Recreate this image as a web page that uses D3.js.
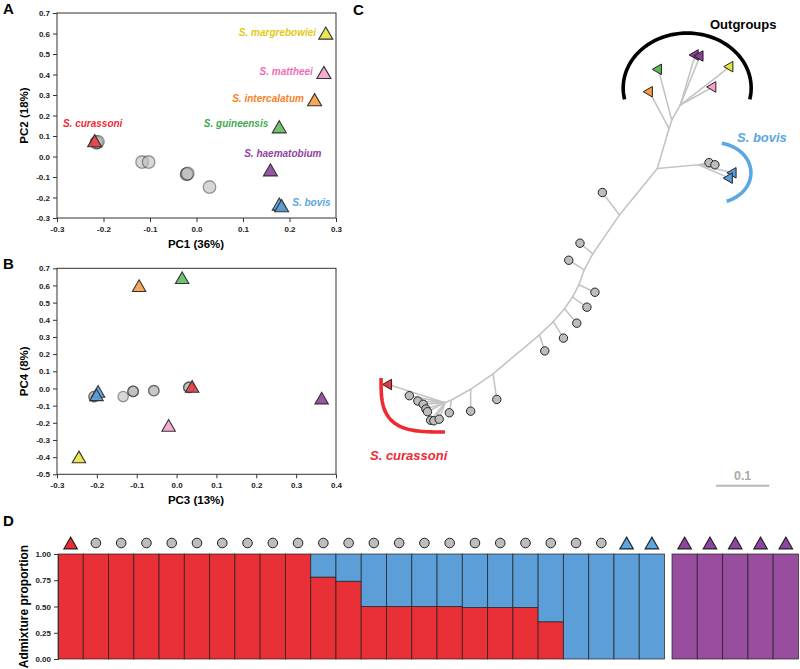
<!DOCTYPE html>
<html>
<head>
<meta charset="utf-8">
<script src="https://cdn.jsdelivr.net/npm/d3@7"></script>
<style>
  body { margin: 0; background: #fff; }
  svg { font-family: "Liberation Sans", Arial, sans-serif; }
  .axis text { font-size: 8px; font-weight: bold; fill: #222; }
  .axis line { stroke: #333; }
</style>
</head>
<body>
<script>
// species (triangles) shared by all panels
const species = ['S. curassoni', 'S. guineensis', 'S. haematobium', 'S. bovis',
  'S. intercalatum', 'S. mattheei', 'S. margrebowiei'];
const speciesFill = ['#E8393F', '#5CB85C', '#8A3E97', '#5A9DD6', '#F89B3E', '#F4A1CB', '#E6E33C'];
const speciesInk = ['#EE2A33', '#3DAA4A', '#8E44A0', '#5AA7E2', '#F7821F', '#F26CB4', '#E5C813'];

// PCA: reference species
const triSpecies = [0, 1, 2, 3, 3, 4, 5, 6];
const triPC1 = [-0.219, 0.178, 0.159, 0.178, 0.183, 0.254, 0.274, 0.278];
const triPC2 = [0.077, 0.145, -0.065, -0.232, -0.240, 0.277, 0.410, 0.602];
const triPC3 = [0.039, 0.014, 0.364, -0.197, -0.201, -0.094, -0.020, -0.245];
const triPC4 = [0.012, 0.645, -0.056, -0.017, -0.037, 0.599, -0.215, -0.399];

// PCA: field samples (grey circles)
const hybPC1 = [-0.215, -0.215, -0.212, -0.117, -0.103, -0.021, -0.021, -0.019, 0.028];
const hybPC2 = [0.068, 0.068, 0.072, -0.027, -0.027, -0.086, -0.086, -0.083, -0.149];
const hybPC3 = [-0.207, -0.207, -0.134, -0.109, -0.109, -0.109, -0.057, -0.057, 0.031, 0.031, 0.031];
const hybPC4 = [-0.047, -0.047, -0.047, -0.017, -0.017, -0.017, -0.013, -0.013, 0.006, 0.006, 0.006];

const pc1Ticks = [-0.3, -0.2, -0.1, 0, 0.1, 0.2, 0.3];
const pc2Ticks = [-0.3, -0.2, -0.1, 0, 0.1, 0.2, 0.3, 0.4, 0.5, 0.6, 0.7];
const pc3Ticks = [-0.3, -0.2, -0.1, 0, 0.1, 0.2, 0.3, 0.4];
const pc4Ticks = [-0.5, -0.4, -0.3, -0.2, -0.1, 0, 0.1, 0.2, 0.3, 0.4, 0.5, 0.6, 0.7];

// tree: [id, parent, x, y, kind] in substitutions/site; kind: 'n' node, 'c' sample, number = species
const treeNodes = [
  ['o4', 'o3', 0.563, 0.197, 'n'], ['o3', 'o2', 0.547, 0.225, 'n'], ['o2', 'r', 0.542, 0.241, 'n'],
  ['r', null, 0.520, 0.316, 'n'], ['b', 'r', 0.597, 0.309, 'n'],
  ['s1', 'r', 0.449, 0.403, 'n'], ['s2', 's1', 0.399, 0.476, 'n'], ['s3', 's2', 0.383, 0.506, 'n'],
  ['s4', 's3', 0.373, 0.534, 'n'], ['s5', 's4', 0.361, 0.557, 'n'], ['s6', 's5', 0.346, 0.579, 'n'],
  ['s7', 's6', 0.325, 0.603, 'n'], ['s8', 's7', 0.299, 0.628, 'n'], ['s9', 's8', 0.212, 0.701, 'n'],
  ['s10', 's9', 0.170, 0.730, 'n'], ['s11', 's10', 0.134, 0.750, 'n'], ['f', 's11', 0.122, 0.755, 'n'],
  ['t4', 'o2', 0.505, 0.172, 4], ['t1', 'o3', 0.522, 0.130, 1],
  ['t2a', 'o4', 0.591, 0.103, 2], ['t2b', 'o4', 0.600, 0.105, 2],
  ['t5', 'o4', 0.624, 0.163, 5], ['t6', 'o4', 0.656, 0.125, 6],
  ['bc1', 'b', 0.617, 0.305, 'c'], ['bc2', 'b', 0.628, 0.309, 'c'],
  ['t3a', 'b', 0.662, 0.324, 3], ['t3b', 'b', 0.655, 0.334, 3],
  ['c1', 's1', 0.417, 0.361, 'c'], ['c2', 's2', 0.375, 0.456, 'c'], ['c3', 's3', 0.354, 0.488, 'c'],
  ['c4', 's4', 0.403, 0.548, 'c'], ['c5', 's5', 0.388, 0.576, 'c'], ['c6', 's6', 0.369, 0.606, 'c'],
  ['c7', 's7', 0.344, 0.634, 'c'], ['c8', 's8', 0.309, 0.658, 'c'], ['c9', 's9', 0.219, 0.749, 'c'],
  ['c10', 's10', 0.170, 0.771, 'c'], ['c11', 's11', 0.130, 0.774, 'c'],
  ['t0', 'f', 0.016, 0.721, 0],
  ['f1', 'f', 0.055, 0.742, 'c'], ['f2', 'f', 0.071, 0.752, 'c'], ['f3', 'f', 0.081, 0.758, 'c'],
  ['f4', 'f', 0.086, 0.767, 'c'], ['f5', 'f', 0.089, 0.772, 'c'], ['f6', 'f', 0.095, 0.788, 'c'],
  ['f7', 'f', 0.101, 0.789, 'c'], ['f8', 'f', 0.111, 0.786, 'c']
];

// admixture (K = 3): symbol per sample and cluster proportions
const admixSymbol = [0, 'c', 'c', 'c', 'c', 'c', 'c', 'c', 'c', 'c', 'c', 'c', 'c', 'c', 'c', 'c',
  'c', 'c', 'c', 'c', 'c', 'c', 3, 3, 2, 2, 2, 2, 2];
const admixRed = [1, 1, 1, 1, 1, 1, 1, 1, 1, 1, 0.78, 0.74, 0.50, 0.50, 0.50, 0.50, 0.49, 0.49,
  0.49, 0.355, 0, 0, 0, 0, 0, 0, 0, 0, 0];
const admixPurple = [0, 0, 0, 0, 0, 0, 0, 0, 0, 0, 0, 0, 0, 0, 0, 0, 0, 0, 0, 0, 0, 0, 0, 0,
  1, 1, 1, 1, 1];
const admixTicks = [0, 0.25, 0.5, 0.75, 1];

const svg = d3.select('body').append('svg').attr('width', 800).attr('height', 669);

const triShape = (size) => d3.symbol(d3.symbolTriangle, size)();
const triShift = (size) => Math.sqrt(size / (3 * Math.sqrt(3))) / 2;

function panelLetter(t, x, y) {
  svg.append('text').attr('x', x).attr('y', y).text(t)
    .style('font-size', '15px').style('font-weight', 'bold');
}

function pcaPanel(o) {
  const x = d3.scaleLinear().domain(o.xDom).range([57, 336]);
  const y = d3.scaleLinear().domain(o.yDom).range(o.yRange);
  const g = svg.append('g');
  const fmt = (d) => d.toFixed(1);

  g.append('g').attr('class', 'axis')
    .attr('transform', 'translate(0,' + o.yRange[0] + ')')
    .call(d3.axisBottom(x).tickValues(o.xTicks).tickFormat(fmt).tickSize(4).tickPadding(4))
    .call((a) => a.select('.domain').remove());
  g.append('g').attr('class', 'axis')
    .attr('transform', 'translate(57,0)')
    .call(d3.axisLeft(y).tickValues(o.yTicks).tickFormat(fmt).tickSize(4).tickPadding(3))
    .call((a) => a.select('.domain').remove());

  g.append('rect')
    .attr('x', 57).attr('y', o.yRange[1])
    .attr('width', 336 - 57).attr('height', o.yRange[0] - o.yRange[1])
    .attr('fill', 'none').attr('stroke', '#333').attr('stroke-width', 1);

  g.append('text').attr('x', 196).attr('y', o.yRange[0] + 30)
    .attr('text-anchor', 'middle').text(o.xTitle)
    .style('font-size', '11.5px').style('font-weight', 'bold');
  g.append('text')
    .attr('transform', 'translate(28,' + (o.yRange[0] + o.yRange[1]) / 2 + ') rotate(-90)')
    .attr('text-anchor', 'middle').text(o.yTitle)
    .style('font-size', '11.5px').style('font-weight', 'bold');

  g.selectAll('circle.hyb')
    .data(d3.zip(o.cx, o.cy))
    .join('circle')
    .attr('class', 'hyb')
    .attr('cx', (d) => x(d[0]))
    .attr('cy', (d) => y(d[1]))
    .attr('r', o.r)
    .attr('fill', '#bdbdbd').attr('fill-opacity', 0.6)
    .attr('stroke', '#111').attr('stroke-opacity', 0.4).attr('stroke-width', 1.3);

  g.selectAll('path.tri')
    .data(d3.zip(triSpecies, o.tx, o.ty))
    .join('path')
    .attr('class', 'tri')
    .attr('d', triShape(o.tri))
    .attr('transform', (d) => 'translate(' + x(d[1]) + ',' + (y(d[2]) + triShift(o.tri)) + ')')
    .attr('fill', (d) => speciesFill[d[0]]).attr('fill-opacity', 0.88)
    .attr('stroke', '#333').attr('stroke-width', 1.1);

  return { x, y, g };
}

// ---------- A ----------
panelLetter('A', 3, 14);
const pa = pcaPanel({
  xDom: [-0.3, 0.3], yDom: [-0.3, 0.7], yRange: [218, 13],
  xTicks: pc1Ticks, yTicks: pc2Ticks,
  xTitle: 'PC1 (36%)', yTitle: 'PC2 (18%)',
  cx: hybPC1, cy: hybPC2, tx: triPC1, ty: triPC2, r: 6.3, tri: 85
});

// label placement: [anchor, dx, dy]
const labelPlace = {
  0: ['middle', -2, -13.5], 1: ['end', -11, 0.5], 2: ['end', 51, -12.5], 3: ['start', 13, 1.5],
  4: ['end', -10.7, 2.5], 5: ['end', -11, 2.8], 6: ['end', -9.7, 3.2]
};
const labelled = [0, 1, 2, 3, 5, 6, 7];
labelled.forEach((i) => {
  const s = triSpecies[i], p = labelPlace[s];
  pa.g.append('text')
    .attr('x', pa.x(triPC1[i]) + p[1])
    .attr('y', pa.y(triPC2[i]) + p[2])
    .attr('text-anchor', p[0])
    .attr('fill', speciesInk[s])
    .style('font-size', '10px').style('font-weight', 'bold').style('font-style', 'italic')
    .text(species[s]);
});

// ---------- B ----------
panelLetter('B', 3, 269);
pcaPanel({
  xDom: [-0.3, 0.4], yDom: [-0.5, 0.7], yRange: [474.3, 268.3],
  xTicks: pc3Ticks, yTicks: pc4Ticks,
  xTitle: 'PC3 (13%)', yTitle: 'PC4 (8%)',
  cx: hybPC3, cy: hybPC4, tx: triPC3, ty: triPC4, r: 5.2, tri: 78
});

// ---------- C ----------
panelLetter('C', 353, 15);
const tx = d3.scaleLinear().domain([0, 0.78]).range([380, 380 + 0.78 * 533.3]);
const ty = d3.scaleLinear().domain([0, 0.8]).range([0, 0.8 * 533.3]);
const nodeById = new Map(treeNodes.map((d) => [d[0], d]));
const tg = svg.append('g');

tg.selectAll('line.branch')
  .data(treeNodes.filter((d) => d[1]))
  .join('line')
  .attr('class', 'branch')
  .attr('x1', (d) => tx(nodeById.get(d[1])[2]))
  .attr('y1', (d) => ty(nodeById.get(d[1])[3]))
  .attr('x2', (d) => tx(d[2]))
  .attr('y2', (d) => ty(d[3]))
  .attr('stroke', '#c4c4c4').attr('stroke-width', 1.6).attr('stroke-linecap', 'round');

tg.selectAll('circle.tip')
  .data(treeNodes.filter((d) => d[4] === 'c'))
  .join('circle')
  .attr('class', 'tip')
  .attr('cx', (d) => tx(d[2])).attr('cy', (d) => ty(d[3])).attr('r', 4.2)
  .attr('fill', '#bdbdbd').attr('stroke', '#222').attr('stroke-width', 1);

tg.selectAll('path.tip')
  .data(treeNodes.filter((d) => typeof d[4] === 'number'))
  .join('path')
  .attr('class', 'tip')
  .attr('d', triShape(48))
  .attr('transform', (d) => 'translate(' + tx(d[2]) + ',' + ty(d[3]) + ') rotate(-90)')
  .attr('fill', (d) => speciesFill[d[4]]).attr('stroke', '#222').attr('stroke-width', 1);

// clade brackets (centre / radii in tree units, angles in degrees)
const brackets = [
  { cx: 0.576, cy: 0.165, rx: 0.12, ry: 0.103, t0: 168, t1: 372, p: 1, color: '#000' },
  { cx: 0.628, cy: 0.324, rx: 0.0675, ry: 0.0563, t0: -79, t1: 71, p: 1, color: speciesInk[3] },
  { cx: 0.122, cy: 0.709, rx: 0.12, ry: 0.101, t0: 180, t1: 90, p: 0.6, color: speciesInk[0] }
];
brackets.forEach((c) => {
  const pts = d3.range(0, 61).map((i) => {
    const t = (c.t0 + (c.t1 - c.t0) * i / 60) * Math.PI / 180;
    const cs = Math.cos(t), sn = Math.sin(t);
    return [tx(c.cx + c.rx * Math.sign(cs) * Math.pow(Math.abs(cs), c.p)),
      ty(c.cy + c.ry * Math.sign(sn) * Math.pow(Math.abs(sn), c.p))];
  });
  tg.append('path').attr('d', d3.line()(pts))
    .attr('fill', 'none').attr('stroke', c.color).attr('stroke-width', 3.6);
});

tg.append('text').attr('x', 710).attr('y', 29).text('Outgroups')
  .style('font-size', '13px').style('font-weight', 'bold');
tg.append('text').attr('x', 737).attr('y', 142).text('S. bovis').attr('fill', speciesInk[3])
  .style('font-size', '13px').style('font-weight', 'bold').style('font-style', 'italic');
tg.append('text').attr('x', 370).attr('y', 460).text('S. curassoni').attr('fill', speciesInk[0])
  .style('font-size', '13px').style('font-weight', 'bold').style('font-style', 'italic');

// scale bar 0.1
tg.append('line')
  .attr('x1', tx(0.63)).attr('x2', tx(0.73)).attr('y1', 485.7).attr('y2', 485.7)
  .attr('stroke', '#b8b8b8').attr('stroke-width', 2);
tg.append('text').attr('x', (tx(0.63) + tx(0.73)) / 2).attr('y', 479.5)
  .attr('text-anchor', 'middle').text('0.1').attr('fill', '#aaa')
  .style('font-size', '12.5px').style('font-weight', 'bold');

// ---------- D ----------
panelLetter('D', 3, 526);
const rows = admixRed.map((r, i) => ({
  i, red: r, purple: admixPurple[i], blue: Math.max(0, 1 - r - admixPurple[i])
}));
const nMain = 24;
const xMain = d3.scaleBand().domain(d3.range(nMain)).range([58, 664.5]);
const xOut = d3.scaleBand().domain(d3.range(nMain, rows.length)).range([672, 798.5]);
const bx = (i) => (i < nMain ? xMain(i) : xOut(i));
const bw = xMain.bandwidth();
const ya = d3.scaleLinear().domain([0, 1]).range([659, 554]);
const clusterColor = { red: '#EA3037', blue: '#5C9FD8', purple: '#984D9F' };

const stack = d3.stack().keys(['red', 'blue', 'purple'])(rows);
const dg = svg.append('g');
stack.forEach((layer) => {
  dg.selectAll('rect.' + layer.key)
    .data(layer.filter((d) => d[1] - d[0] > 0))
    .join('rect')
    .attr('class', layer.key)
    .attr('x', (d) => bx(d.data.i))
    .attr('width', bw)
    .attr('y', (d) => ya(d[1]))
    .attr('height', (d) => ya(d[0]) - ya(d[1]))
    .attr('fill', clusterColor[layer.key])
    .attr('stroke', '#1a1a1a').attr('stroke-opacity', 0.75).attr('stroke-width', 0.9);
});

dg.append('g').attr('class', 'axis')
  .attr('transform', 'translate(58,0)')
  .call(d3.axisLeft(ya).tickValues(admixTicks).tickFormat(d3.format('.2f')).tickSize(4).tickPadding(3))
  .call((a) => a.select('.domain').attr('stroke', '#333'));

dg.append('text')
  .attr('transform', 'translate(28,' + (ya(0) + ya(1)) / 2 + ') rotate(-90)')
  .attr('text-anchor', 'middle').text('Admixture proportion')
  .style('font-size', '12px').style('font-weight', 'bold');

admixSymbol.forEach((s, i) => {
  const cx = bx(i) + bw / 2;
  if (s === 'c') {
    dg.append('circle').attr('cx', cx).attr('cy', 543).attr('r', 4.8)
      .attr('fill', '#bdbdbd').attr('stroke', '#222').attr('stroke-width', 1);
  } else {
    dg.append('path').attr('d', triShape(80))
      .attr('transform', 'translate(' + cx + ',' + (543 + triShift(80)) + ')')
      .attr('fill', speciesInk[s]).attr('stroke', '#222').attr('stroke-width', 1.1);
  }
});
</script>
</body>
</html>
